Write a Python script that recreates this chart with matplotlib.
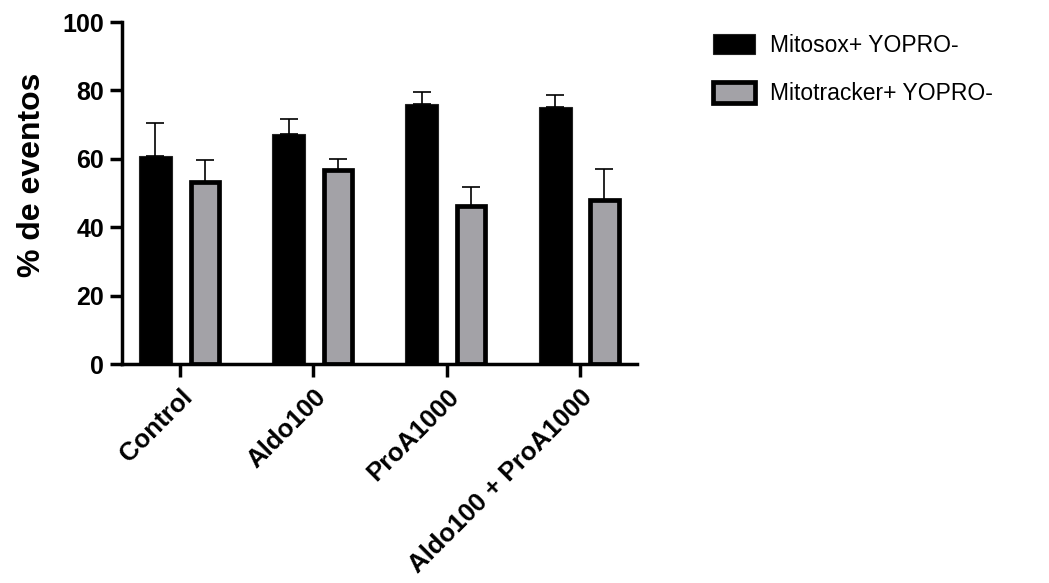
import matplotlib.pyplot as plt
import numpy as np

plt.rcParams['font.family'] = ['Liberation Sans', 'DejaVu Sans']

# Datos
grupos = ['Control', 'Aldo100', 'ProA1000', 'Aldo100 + ProA1000']
mitosox = [60.9, 67.2, 76.0, 75.2]
mitosox_err = [9.6, 4.5, 3.6, 3.6]
mitotracker = [53.1, 56.6, 46.3, 48.0]
mitotracker_err = [6.6, 3.4, 5.4, 9.0]
series = ['Mitosox+ YOPRO-', 'Mitotracker+ YOPRO-']

fig = plt.figure(figsize=(10.49, 5.83), dpi=100)
ax = fig.add_axes([0.1163, 0.3756, 0.491, 0.5866])

x = np.arange(len(grupos))
desp = 0.185
err_kw = dict(ecolor='black', elinewidth=1.2, capsize=6.5, capthick=1.2)

ax.bar(x - desp, mitosox, 0.248, color='black', edgecolor='#222222', linewidth=0.8,
       yerr=[np.zeros(4), mitosox_err], error_kw=err_kw, label=series[0], zorder=2)
ax.bar(x + desp, mitotracker, 0.213, color='#a3a2a7', edgecolor='black', linewidth=3.4,
       yerr=[np.zeros(4), mitotracker_err], error_kw=err_kw, label=series[1], zorder=2)

ax.set_xlim(-0.436, 3.43)
ax.set_ylim(0, 100)
ax.set_yticks([0, 20, 40, 60, 80, 100])
ax.set_xticks(x)
ax.set_xticklabels(grupos, rotation=45, ha='right', rotation_mode='anchor', fontsize=18.5, fontweight='bold')
for lab in ax.get_yticklabels():
    lab.set_fontsize(18)
    lab.set_fontweight('bold')

for s in ['top', 'right']:
    ax.spines[s].set_visible(False)
for s in ['left', 'bottom']:
    ax.spines[s].set_linewidth(2.5)
ax.tick_params(axis='both', width=2.5, length=9, pad=4)
ax.tick_params(axis='x', pad=6)

ax.set_ylabel('% de eventos', fontsize=23, fontweight='bold')
ax.yaxis.set_label_coords(-0.146, 0.553)

fig.legend(loc='upper left', bbox_to_anchor=(0.6797, 0.942), frameon=False, fontsize=16.5,
           borderpad=0, borderaxespad=0, handlelength=1.83, handleheight=1.0,
           labelspacing=1.1, handletextpad=0.65)

fig.savefig('out.png', dpi=100)
